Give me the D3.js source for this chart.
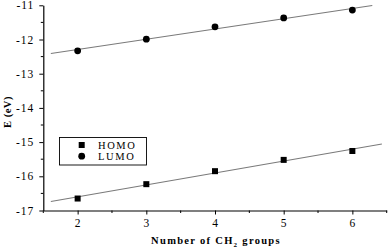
<!DOCTYPE html>
<html><head><meta charset="utf-8">
<script src="https://cdn.jsdelivr.net/npm/d3@7"></script>
<style>body{margin:0;background:#fff}svg{display:block}</style>
</head><body>
<script>
const groups = [2, 3, 4, 5, 6];
const homo = [-16.65, -16.23, -15.85, -15.52, -15.26];
const lumo = [-12.33, -11.99, -11.63, -11.37, -11.14];
const homoFitRange = [1.61, 6.43];
const lumoFitRange = [1.61, 6.29];
const xTicks = [2, 3, 4, 5, 6];
const yTicks = [-17, -16, -15, -14, -13, -12, -11];
const seriesNames = ["HOMO", "LUMO"];

const W = 390, H = 250;
const svg = d3.select("body").append("svg").attr("width", W).attr("height", H);
const x = d3.scaleLinear().domain([1.5, 6.5]).range([43.3, 386.7]);
const y = d3.scaleLinear().domain([-17, -11]).range([210.5, 5.3]);
const font = "'Liberation Serif', 'Times New Roman', serif";

function fit(xs, ys) {
  const mx = d3.mean(xs), my = d3.mean(ys);
  const b = d3.sum(xs, (v, i) => (v - mx) * (ys[i] - my)) / d3.sum(xs, v => (v - mx) ** 2);
  return [b, my - b * mx];
}
function drawFit(ys, range) {
  const [b, a] = fit(groups, ys);
  svg.append("line")
    .attr("x1", x(range[0])).attr("y1", y(a + b * range[0]))
    .attr("x2", x(range[1])).attr("y2", y(a + b * range[1]))
    .attr("stroke", "#7a7a7a").attr("stroke-width", 1.1);
}
drawFit(homo, homoFitRange);
drawFit(lumo, lumoFitRange);

// axes
const gx = svg.append("g").attr("transform", `translate(0,${y(-17)})`);
gx.call(d3.axisBottom(x).tickValues(xTicks).tickSize(4).tickSizeOuter(0).tickPadding(4).tickFormat(d3.format("d")));
gx.call(g => g.selectAll(".minor").data([1.5,2.5,3.5,4.5,5.5,6.5]).enter().append("line")
  .attr("x1", d => x(d)).attr("x2", d => x(d)).attr("y1", 0).attr("y2", 2.5).attr("stroke", "#000"));
const gy = svg.append("g").attr("transform", `translate(${x(1.5)},0)`);
gy.call(d3.axisLeft(y).tickValues(yTicks).tickSize(4).tickSizeOuter(0).tickPadding(5).tickFormat(d => d3.format("d")(d).replace("−", "-")));
gy.call(g => g.selectAll(".minor").data([-16.5,-15.5,-14.5,-13.5,-12.5,-11.5]).enter().append("line")
  .attr("x1", 0).attr("x2", -2.5).attr("y1", d => y(d)).attr("y2", d => y(d)).attr("stroke", "#000"));
svg.selectAll(".domain").attr("stroke", "#000").attr("stroke-width", 1.2);
svg.selectAll(".tick line").attr("stroke", "#000");
svg.selectAll(".tick text").attr("font-family", font).attr("font-size", 11.5).attr("fill", "#000").attr("letter-spacing", "1px");

// markers
svg.append("g").selectAll("rect").data(groups).enter().append("rect")
  .attr("x", (d) => x(d) - 3).attr("y", (d, i) => y(homo[i]) - 3)
  .attr("width", 6).attr("height", 6).attr("fill", "#000");
svg.append("g").selectAll("circle").data(groups).enter().append("circle")
  .attr("cx", d => x(d)).attr("cy", (d, i) => y(lumo[i])).attr("r", 3.4).attr("fill", "#000");

// titles
svg.append("text").attr("x", 216).attr("y", 244).attr("text-anchor", "middle")
  .attr("font-family", font).attr("font-weight", "bold").attr("font-size", 10.5).attr("letter-spacing", "1.3px")
  .call(t => {
    t.append("tspan").text("Number of CH");
    t.append("tspan").text("2").attr("font-size", 7).attr("dy", 3);
    t.append("tspan").text(" groups").attr("dy", -3);
  });
svg.append("text").attr("transform", "translate(11,112) rotate(-90)").attr("text-anchor", "middle")
  .attr("font-family", font).attr("font-weight", "bold").attr("font-size", 10.5).attr("letter-spacing", "0.5px")
  .text("E (eV)");

// legend
const lg = svg.append("g");
lg.append("rect").attr("x", 59.5).attr("y", 137.5).attr("width", 87).attr("height", 27.5)
  .attr("fill", "#fff").attr("stroke", "#000").attr("stroke-width", 0.9);
lg.append("rect").attr("x", 78.7).attr("y", 142).attr("width", 6).attr("height", 6).attr("fill", "#000");
lg.append("circle").attr("cx", 81.7).attr("cy", 156.2).attr("r", 3.4).attr("fill", "#000");
lg.selectAll("text").data(seriesNames).enter().append("text")
  .attr("x", 98).attr("y", (d, i) => 149 + i * 11)
  .attr("font-family", font).attr("font-size", 10.5).attr("letter-spacing", "1.6px").text(d => d);
</script>
</body></html>
